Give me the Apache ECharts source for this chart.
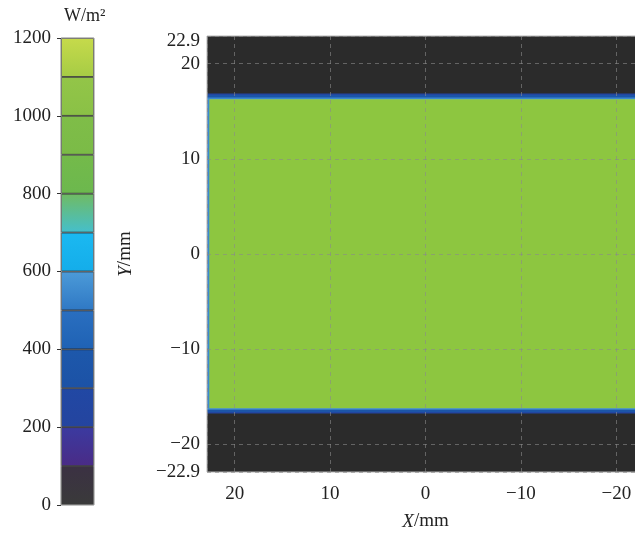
<!DOCTYPE html>
<html>
<head>
<meta charset="utf-8">
<script src="https://cdn.jsdelivr.net/npm/echarts@6/dist/echarts.min.js"></script>
<style>
  html, body { margin: 0; padding: 0; background: #fff; }
  #chart { width: 635px; height: 533px; }
</style>
</head>
<body>
<div id="chart"></div>
<script>
// irradiance patches on the target: [x from, x to, y from, y to, W/m2]
const patchX0 = [22.9, 22.9, 22.9, 22.9, 22.9, 22.65, 22.9, 22.9, 22.9, 22.9];
const patchX1 = [-22.9, -22.9, -22.9, -22.9, 22.65, -22.9, -22.9, -22.9, -22.9, -22.9];
const patchY0 = [22.9, 16.85, 16.7, 16.45, 16.25, 16.25, -16.2, -16.35, -16.6, -16.75];
const patchY1 = [16.85, 16.7, 16.45, 16.25, -16.2, -16.2, -16.35, -16.6, -16.75, -22.9];
const patchVal = [30, 250, 360, 560, 540, 1040, 600, 400, 250, 30];

// colour bar steps (W/m2) and their colours, bottom to top
const barSteps = [100, 200, 300, 400, 500, 600, 700, 800, 900, 1000, 1100, 1200];
const stepTop = ["#3b3143", "#3b3aa0", "#2148a4", "#1d58ab", "#2a6fc0", "#4c9bd8", "#1bb9f1",
  "#70bb62", "#74ba4a", "#7fbd48", "#93c548", "#c6da4b"];
const stepBottom = ["#3a3a3a", "#4a2b86", "#24449f", "#1c52a6", "#1f62b4", "#2f78c4", "#14adea",
  "#45bfcc", "#6cb84e", "#7bbb47", "#8ac146", "#a6cc45"];
const stepColor = ["#2b2b2b", "#34308e", "#2246a2", "#1c55a8", "#2468ba", "#3a88ce", "#18b3ee",
  "#5abd98", "#70b94c", "#7dbc47", "#8dc640", "#b6d348"];
const barTicks = [0, 200, 400, 600, 800, 1000, 1200];

const serif = "Liberation Serif";
const chart = echarts.init(document.getElementById("chart"));

function minus(v) {
  return v < 0 ? "\u2212" + (-v) : String(v);
}

const patches = patchVal.map((v, i) => [patchX0[i], patchX1[i], patchY0[i], patchY1[i], v]);

const pieces = barSteps.map((top, i) => ({ min: top - 100, max: top, color: stepColor[i] }));

const barSeries = barSteps.map((top, i) => ({
  type: "bar",
  xAxisIndex: 1,
  yAxisIndex: 1,
  stack: "bar",
  barWidth: "100%",
  silent: true,
  data: [100],
  itemStyle: {
    color: new echarts.graphic.LinearGradient(0, 0, 0, 1, [
      { offset: 0, color: stepTop[i] },
      { offset: 1, color: stepBottom[i] }
    ]),
    borderColor: "#2c2c2c",
    borderWidth: 0.8
  }
}));

const gridLine = { show: true, lineStyle: { color: "rgba(138,138,138,0.6)", type: [4, 4], width: 1 } };
const nameStyle = {
  fontFamily: serif, fontSize: 19, color: "#222",
  rich: { i: { fontFamily: serif, fontSize: 19, fontStyle: "italic", color: "#222" } }
};

const option = {
  animation: false,
  title: {
    text: "W/m\u00b2",
    left: 59,
    top: 2,
    textStyle: { fontFamily: serif, fontSize: 18, fontWeight: "normal", color: "#222" }
  },
  visualMap: {
    type: "piecewise",
    show: false,
    seriesIndex: 0,
    dimension: 4,
    pieces: pieces
  },
  grid: [
    {
      left: 207, right: -9, top: 36, bottom: 61, outerBoundsMode: "none",
      show: true, borderColor: "#b5b5b5", borderWidth: 1, z: 10
    },
    {
      left: 61, width: 33, top: 38, bottom: 28, outerBoundsMode: "none",
      show: true, borderColor: "#999", borderWidth: 1, z: 10
    }
  ],
  xAxis: [
    {
      type: "value",
      gridIndex: 0,
      min: -22.9,
      max: 22.9,
      inverse: true,
      z: 10,
      name: "{i|X}/mm",
      nameLocation: "middle",
      nameGap: 40,
      nameMoveOverlap: false,
      nameTextStyle: nameStyle,
      axisLine: { show: false },
      axisTick: { show: false },
      axisLabel: {
        fontFamily: serif, fontSize: 19, color: "#222", margin: 13,
        formatter: v => (Math.abs(v) > 22 ? "" : minus(v))
      },
      splitLine: gridLine
    },
    {
      type: "category",
      gridIndex: 1,
      data: ["W/m\u00b2"],
      show: false
    }
  ],
  yAxis: [
    {
      type: "value",
      gridIndex: 0,
      min: -22.9,
      max: 22.9,
      z: 10,
      name: "{i|Y}/mm",
      nameLocation: "middle",
      nameGap: 72,
      nameRotate: 90,
      nameMoveOverlap: false,
      nameTextStyle: nameStyle,
      axisLine: { show: false },
      axisTick: { show: false },
      axisLabel: {
        fontFamily: serif, fontSize: 19, color: "#222", margin: 7,
        formatter: v => (v > 22 ? "{t|" + v + "}" : minus(v)),
        rich: { t: { fontFamily: serif, fontSize: 19, color: "#222", padding: [11, 0, 0, 0] } }
      },
      splitLine: gridLine
    },
    {
      type: "value",
      gridIndex: 1,
      min: 0,
      max: 1200,
      interval: 200,
      z: 10,
      axisLine: { show: false },
      axisTick: { show: true, length: 4, lineStyle: { color: "#333" } },
      axisLabel: {
        fontFamily: serif, fontSize: 19, color: "#222", margin: 10,
        formatter: v => (barTicks.indexOf(v) >= 0 ? String(v) : "")
      },
      splitLine: { show: false }
    }
  ],
  series: [
    {
      type: "custom",
      xAxisIndex: 0,
      yAxisIndex: 0,
      silent: true,
      clip: true,
      encode: { x: [0, 1], y: [2, 3] },
      renderItem: function (params, api) {
        const p0 = api.coord([api.value(0), api.value(2)]);
        const p1 = api.coord([api.value(1), api.value(3)]);
        const x = Math.min(p0[0], p1[0]);
        const y = Math.min(p0[1], p1[1]);
        return {
          type: "rect",
          shape: { x: x, y: y, width: Math.abs(p1[0] - p0[0]) + 0.5, height: Math.abs(p1[1] - p0[1]) + 0.5 },
          style: { fill: api.visual("color") }
        };
      },
      data: patches
    }
  ].concat(barSeries)
};

chart.setOption(option);
</script>
</body>
</html>
